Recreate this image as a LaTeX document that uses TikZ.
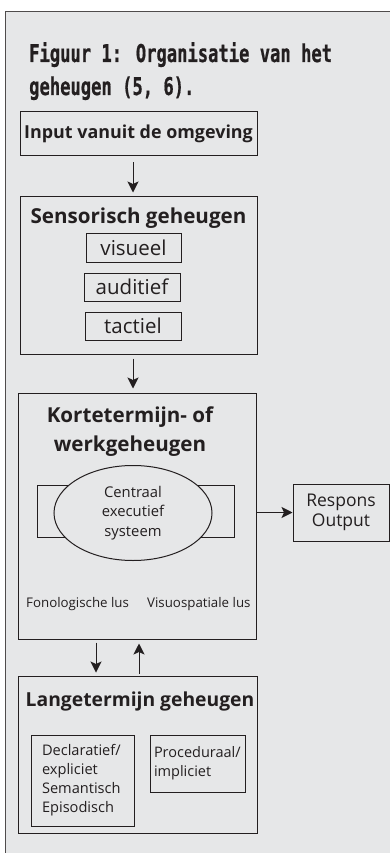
\documentclass[tikz,border=0pt]{standalone}
\usepackage{fontspec}
\setmainfont{Open Sans}
\newfontfamily\titlefont[FakeStretch=0.70,FakeBold=0.6]{DejaVu Sans Mono}
\usetikzlibrary{shapes.geometric,arrows.meta}
\definecolor{paneel}{HTML}{E6E7E8}
\definecolor{inkt}{HTML}{231F20}
\tikzset{
  kader/.style={draw=inkt,line width=1pt,inner sep=0pt,text=inkt},
  pijl/.style={draw=inkt,line width=1pt,-{Stealth[length=11pt,width=11pt,inset=2.5pt]}},
  kop/.style={font=\bfseries\fontsize{20.6}{23}\selectfont,text=inkt,inner sep=0pt},
  klein/.style={font=\fontsize{20.5}{23}\selectfont},
  lus/.style={anchor=base west,inner sep=0pt,text=inkt,font=\fontsize{13.3}{16}\selectfont},
  titel/.style={anchor=base west,inner sep=0pt,text=inkt,font=\titlefont\bfseries\fontsize{24.5}{33}\selectfont}
}
\begin{document}
\begin{tikzpicture}[x=1pt,y=-1pt]
\useasboundingbox (0,0) rectangle (390,853);

%Panel
\fill[paneel] (5,11) rectangle (390,853);
\draw[inkt!80,line width=0.8pt] (5,853) -- (5,11) -- (390,11);

%Title
\node[titel] (titel1) at (29,62) {Figuur 1: Organisatie van het};
\node[titel] (titel2) at (29,95) {geheugen (5, 6).};

%Input
\node[kader,kop,font=\bfseries\fontsize{17.9}{21}\selectfont,minimum width=237pt,minimum height=44pt] (input) at (138.5,134) {Input vanuit de omgeving};

%Sensorisch geheugen
\node[kader,minimum width=237pt,minimum height=158pt] (sens) at (138.5,275) {};
\node[kop,anchor=base] (senskop) at (138.5,223) {Sensorisch geheugen};
\node[kader,klein,minimum width=95pt,minimum height=29pt] (visueel) at (133.5,247.5) {visueel};
\node[kader,klein,minimum width=96pt,minimum height=28pt] (auditief) at (132,287) {auditief};
\node[kader,klein,minimum width=96pt,minimum height=28pt] (tactiel) at (133,326) {tactiel};

%Kortetermijn- of werkgeheugen
\node[kader,minimum width=238pt,minimum height=246pt] (kt) at (137,516) {};
\node[kop,align=center,font=\bfseries\fontsize{20.6}{29}\selectfont] (ktkop) at (130,432) {Kortetermijn- of\\werkgeheugen};
\node[kader,minimum width=197pt,minimum height=52pt] (lussen) at (135.5,511) {};
\node[kader,ellipse,fill=paneel,minimum width=158pt,minimum height=95pt,align=center,font=\fontsize{14.8}{19.5}\selectfont] (ces) at (133,513) {Centraal\\executief\\systeem};
\node[lus] (fono) at (26,607) {Fonologische lus};
\node[lus] (visuo) at (147,607) {Visuospatiale lus};

%Respons
\node[kader,minimum width=96pt,minimum height=57pt,align=center,font=\fontsize{17.5}{20.5}\selectfont] (respons) at (341,512.5) {Respons\\Output};

%Langetermijn geheugen
\node[kader,minimum width=239pt,minimum height=157pt] (lt) at (137.5,754.5) {};
\node[kop,anchor=base,font=\bfseries\fontsize{19.3}{23}\selectfont] (ltkop) at (140,706) {Langetermijn geheugen};
\node[kader,text width=81pt,inner xsep=11pt,minimum height=91pt,align=left,font=\fontsize{14.6}{19}\selectfont] (decl) at (82.5,780.5) {Declaratief/\\expliciet\\Semantisch\\Episodisch};
\node[kader,text width=87pt,inner xsep=4pt,minimum height=57pt,align=left,font=\fontsize{14.5}{19}\selectfont] (proc) at (197.5,763.5) {Proceduraal/\\impliciet};

%Arrows
\draw[pijl,shorten <=6pt,shorten >=3pt] ([xshift=-5.5pt]input.south) -- ([xshift=-5.5pt]sens.north);
\draw[pijl,shorten <=4pt,shorten >=4pt] ([xshift=-5.5pt]sens.south) -- ([xshift=-4pt]kt.north);
\draw[pijl] (kt.east |- respons.west) -- (respons.west);
\draw[pijl,shorten <=3pt,shorten >=3pt] ([xshift=-41pt]kt.south) -- ([xshift=-41.5pt]lt.north);
\draw[pijl,shorten <=2pt,shorten >=4pt] ([xshift=1.5pt]lt.north) -- ([xshift=2pt]kt.south);
\end{tikzpicture}
\end{document}
